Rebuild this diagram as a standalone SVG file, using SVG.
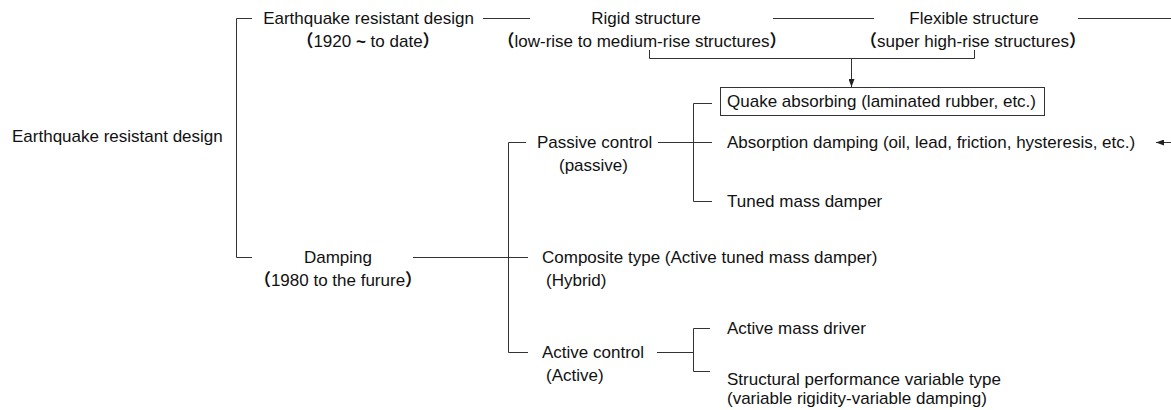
<svg xmlns="http://www.w3.org/2000/svg" width="1171" height="410" viewBox="0 0 1171 410">
<defs>
<marker id="ah" markerWidth="8" markerHeight="6" refX="8" refY="3" orient="auto" markerUnits="userSpaceOnUse"><path d="M0,0 L8,3 L0,6 z" fill="#222"/></marker>
</defs>
<style>
text{font-family:"Liberation Sans","Noto Sans CJK SC",Arial,sans-serif;font-size:17px;fill:#111}
.p{font-family:"Noto Sans CJK SC",sans-serif;font-weight:700}
.b{font-weight:700}
.c{text-anchor:middle}
.ln{stroke:#333;stroke-width:1;fill:none}
.box{stroke:#333;stroke-width:1;fill:#fff}
</style>
<rect width="1171" height="410" fill="#fff"/>
<g id="connectors">
<path class="ln" d="M252,18.5 H236.5 V257.5 H252"/>
<path class="ln" d="M483,18.5 H530"/>
<path class="ln" d="M773,18.5 H874"/>
<path class="ln" d="M1078,18.5 H1171"/>
<path class="ln" d="M649.5,50 V58.5 H974.5 V50"/>
<path class="ln" d="M851.5,58.5 V87" marker-end="url(#ah)"/>
<path class="ln" d="M413,257.5 H528"/>
<path class="ln" d="M526,142.5 H508.5 V352.5 H528"/>
<path class="ln" d="M658,142.5 H712"/>
<path class="ln" d="M712,103.5 H693.5 V201.5 H712"/>
<path class="ln" d="M657,352.5 H693.5"/>
<path class="ln" d="M710,328.5 H693.5 V371.5 H710"/>
<path class="ln" d="M1171,142.5 H1156" marker-end="url(#ah)"/>
</g>
<g id="root"><text x="12" y="142">Earthquake resistant design</text></g>
<g id="erd">
<text class="c" x="368.5" y="24">Earthquake resistant design</text>
<text class="c" x="368" y="47"><tspan class="p">（</tspan>1920 <tspan class="b">~</tspan> to date<tspan class="p">）</tspan></text>
</g>
<g id="rigid">
<text class="c" x="646" y="24">Rigid structure</text>
<text class="c" x="642" y="47"><tspan class="p">（</tspan>low-rise to medium-rise structures<tspan class="p">）</tspan></text>
</g>
<g id="flexible">
<text class="c" x="974" y="24">Flexible structure</text>
<text class="c" x="973" y="47"><tspan class="p">（</tspan>super high-rise structures<tspan class="p">）</tspan></text>
</g>
<g id="damping">
<text class="c" x="338" y="263">Damping</text>
<text class="c" x="338" y="286"><tspan class="p">（</tspan>1980 to the furure<tspan class="p">）</tspan></text>
</g>
<g id="passive">
<text x="537" y="148">Passive control</text>
<text x="559" y="171">(passive)</text>
</g>
<g id="composite">
<text x="542" y="263">Composite type (Active tuned mass damper)</text>
<text x="546" y="286">(Hybrid)</text>
</g>
<g id="active">
<text x="542" y="358">Active control</text>
<text x="546" y="381">(Active)</text>
</g>
<g id="quake">
<rect class="box" x="720.5" y="87.5" width="324" height="28"/>
<text x="727" y="107">Quake absorbing (laminated rubber, etc.)</text>
</g>
<g id="absorption"><text x="727" y="148">Absorption damping (oil, lead, friction, hysteresis, etc.)</text></g>
<g id="tmd"><text x="727" y="207">Tuned mass damper</text></g>
<g id="amd"><text x="727" y="334">Active mass driver</text></g>
<g id="spv">
<text x="727" y="385">Structural performance variable type</text>
<text x="727" y="404">(variable rigidity-variable damping)</text>
</g>
</svg>
